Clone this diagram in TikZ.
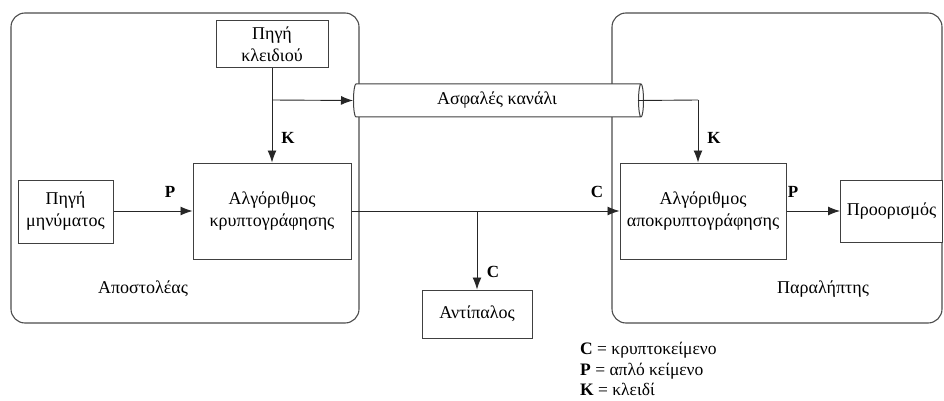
\documentclass[tikz,border=0pt]{standalone}
\usepackage{fontspec}
\setmainfont{Liberation Serif}
\usetikzlibrary{shapes.geometric,arrows.meta}
\begin{document}
\begin{tikzpicture}[x=1pt,y=-1pt,
  every node/.style={font=\fontsize{18}{22}\selectfont},
  panel/.style={draw=black!70,line width=1.1pt,rounded corners=14pt},
  blockbox/.style={draw=black!75,line width=1pt,fill=white,inner sep=0pt,align=center},
  conn/.style={draw=black!85,line width=0.9pt},
  arr/.style={conn,-{Latex[length=12pt,width=9pt]}},
  sym/.style={font=\fontsize{17}{18}\selectfont\bfseries,inner sep=0pt}]
\useasboundingbox (0,0) rectangle (944,401);

% sender and receiver areas
\draw[panel] (11,13) rectangle (359,323);
\draw[panel] (612,13) rectangle (942,323);
\node (sendlbl) at (143,289) {Αποστολέας};
\node (recvlbl) at (823,289) {Παραλήπτης};

% blocks
\node[blockbox,minimum width=112pt,minimum height=47pt] (key) at (272,44.5) {Πηγή\\κλειδιού};
\node[blockbox,minimum width=158pt,minimum height=96pt] (enc) at (272,211) {Αλγόριθμος\\κρυπτογράφησης};
\node[blockbox,minimum width=95pt,minimum height=63pt] (msg) at (65.5,211.5) {Πηγή\\μηνύματος};
\node[blockbox,minimum width=166pt,minimum height=96pt] (dec) at (703,211) {Αλγόριθμος\\αποκρυπτογράφησης};
\node[blockbox,minimum width=102pt,minimum height=62pt] (dst) at (891.5,211) {Προορισμός};
\node[blockbox,minimum width=110pt,minimum height=48pt] (adv) at (477,314) {Αντίπαλος};

% secure channel
\node[cylinder,shape border rotate=0,aspect=0.3,draw=black!75,line width=1pt,fill=white,
      minimum width=33pt,minimum height=290pt,inner sep=0pt] (ch) at (497,100.5) {Ασφαλές κανάλι};

% key paths
\coordinate (kbranch) at (272,100);
\coordinate (kright) at (698,100);
\draw[arr] (key.south) -- (enc.north);
\draw[arr] (kbranch) -- (ch.west);
\draw[conn] ([xshift=-6]ch.east) -- (kright);
\draw[arr] (kright) -- (kright |- dec.north);

% message paths
\draw[arr] (msg.east |- enc.west) -- (enc.west);
\draw[arr] (enc.east) -- (dec.west);
\draw[arr] (enc.east -| adv.north) -- (adv.north);
\draw[arr] (dec.east) -- (dst.west);

% symbols on the connectors
\node[sym] (kl) at (288,138) {K};
\node[sym] (kr) at (714,138) {K};
\node[sym] (pl) at (170,192) {P};
\node[sym] (pr) at (793,192) {P};
\node[sym] (cr) at (597,192) {C};
\node[sym] (cb) at (493,272) {C};

% legend
\node[anchor=west,inner sep=0pt,font=\fontsize{17.5}{20.5}\selectfont,align=left] (legend) at (580,369)
  {\textbf{C} = κρυπτοκείμενο\\\textbf{P} = απλό κείμενο\\\textbf{K} = κλειδί};
\end{tikzpicture}
\end{document}
